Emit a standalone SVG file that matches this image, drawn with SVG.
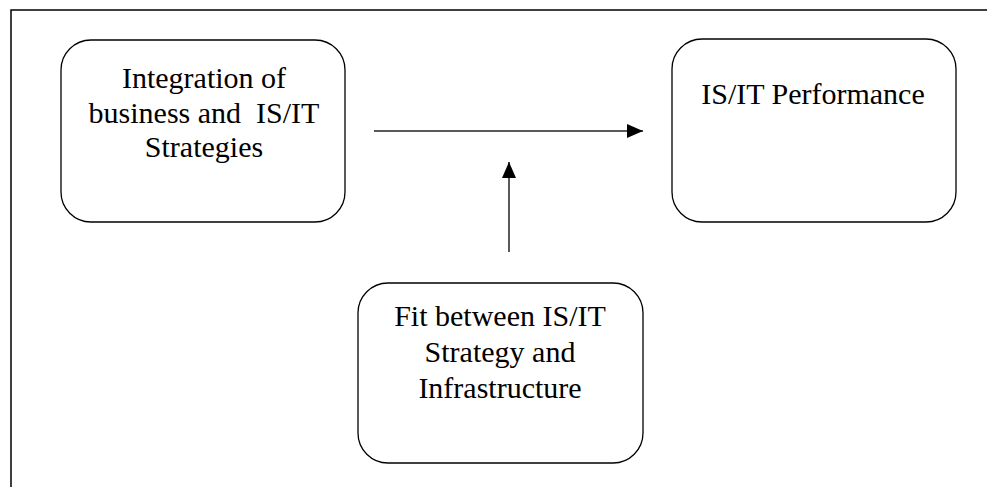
<svg xmlns="http://www.w3.org/2000/svg" width="987" height="487" viewBox="0 0 987 487">
<style>
.box{fill:#fff;stroke:#000;stroke-width:1.3}
.t{font-family:"Liberation Serif","Times New Roman",serif;font-size:30px;fill:#000;text-anchor:middle;white-space:pre}
.c{stroke:#222;stroke-width:1.5;fill:none}
</style>
<defs>
<marker id="ah" markerWidth="16" markerHeight="14" refX="16" refY="7" orient="auto" markerUnits="userSpaceOnUse">
<path d="M0,0 L16,7 L0,14 Z" fill="#000"/>
</marker>
</defs>
<rect width="987" height="487" fill="#fff"/>
<rect x="11" y="10" width="1000" height="500" fill="none" stroke="#000" stroke-width="1.5"/>
<g id="n1">
<rect class="box" x="61" y="40" width="284" height="182" rx="30"/>
<text class="t" x="204" y="88">Integration of</text>
<text class="t" x="204" y="123" xml:space="preserve">business and  IS/IT</text>
<text class="t" x="204" y="157">Strategies</text>
</g>
<g id="n2">
<rect class="box" x="672" y="39" width="284" height="183" rx="30"/>
<text class="t" x="813" y="104">IS/IT Performance</text>
</g>
<g id="n3">
<rect class="box" x="358" y="283" width="285" height="180" rx="30"/>
<text class="t" x="500" y="326">Fit between IS/IT</text>
<text class="t" x="500" y="362">Strategy and</text>
<text class="t" x="500" y="398">Infrastructure</text>
</g>
<g id="connectors">
<line class="c" x1="374" y1="131" x2="643" y2="131" marker-end="url(#ah)"/>
<line class="c" x1="509" y1="252" x2="509" y2="162" marker-end="url(#ah)"/>
</g>
</svg>
